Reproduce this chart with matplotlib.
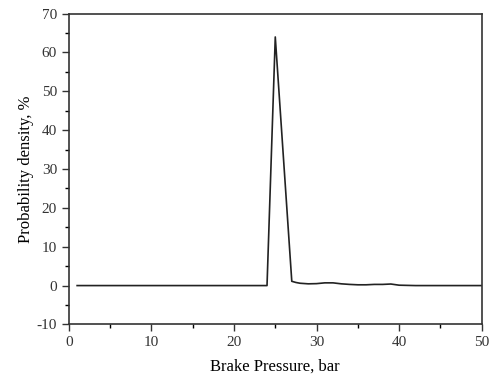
import matplotlib
matplotlib.use('Agg')
import matplotlib.pyplot as plt
from matplotlib.ticker import MultipleLocator

plt.rcParams['font.family'] = ['Liberation Serif', 'DejaVu Serif']
plt.rcParams['axes.unicode_minus'] = False

# 制动压力 (bar) 与概率密度 (%)
pressure = [1, 24, 25, 27, 27.5, 28, 29, 30, 31, 32, 33, 34, 35, 36, 37, 38, 39, 40, 41, 42, 50]
density = [0, 0, 64, 1.1, 0.8, 0.6, 0.45, 0.5, 0.7, 0.7, 0.45, 0.3, 0.2, 0.2, 0.3, 0.3, 0.4, 0.1, 0.05, 0, 0]

fig = plt.figure(figsize=(4.92, 3.79), dpi=100)
ax = fig.add_axes([0.140, 0.144, 0.839, 0.820])

ax.plot(pressure, density, color='#222222', linewidth=1.2)

ax.set_xlim(0, 50)
ax.set_ylim(-10, 70)
ax.xaxis.set_major_locator(MultipleLocator(10))
ax.xaxis.set_minor_locator(MultipleLocator(5))
ax.yaxis.set_major_locator(MultipleLocator(10))
ax.yaxis.set_minor_locator(MultipleLocator(5))

ax.tick_params(which='major', direction='out', length=5, width=1, labelsize=11, colors='#333333')
ax.tick_params(which='minor', direction='out', length=3, width=1)
ax.tick_params(top=False, right=False, which='both')
for sp in ax.spines.values():
    sp.set_linewidth(1.2)
    sp.set_color('#333333')

ax.set_xlabel('Brake Pressure, bar', fontsize=12, labelpad=7)
ax.set_ylabel('Probability density, %', fontsize=12, labelpad=2)

fig.savefig('out.png', dpi=100)
